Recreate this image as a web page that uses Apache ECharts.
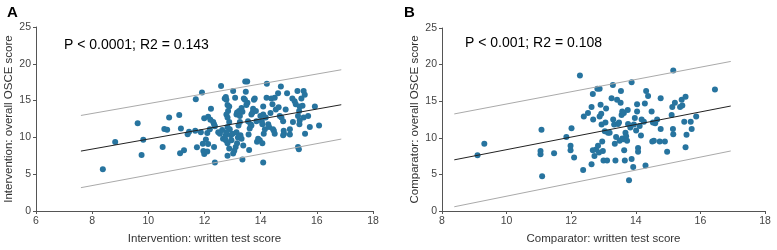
<!DOCTYPE html>
<html>
<head>
<meta charset="utf-8">
<script src="https://cdn.jsdelivr.net/npm/echarts@6/dist/echarts.min.js"></script>
<style>
  html, body { margin: 0; padding: 0; background: #fff; }
  #chart { width: 777px; height: 250px; }
</style>
</head>
<body>
<div id="chart"></div>
<script>
  // panel A: intervention group (written score, OSCE score)
  var scoresA = [
    [8.38,5.68],[8.82,9.37],[9.62,11.93],[9.82,9.68],[9.76,7.61],[10.51,8.71],[10.57,11.14],[10.67,11.05],
    [10.74,12.72],[11.10,13.03],[11.16,11.22],[11.13,7.83],[11.27,8.27],[11.40,10.43],[11.45,10.78],
    [11.69,15.18],[11.67,10.92],[11.73,8.67],[11.87,10.70],[11.91,16.11],[11.94,9.15],[11.96,8.14],[11.99,7.75],
    [12.23,13.9],[11.99,12.6],[12.13,12.8],[12.21,12.4],[12.31,12.1],[12.34,11.8],[12.37,11.5],[12.19,11.1],
    [12.10,10.6],[12.05,9.7],[12.13,9.1],[12.10,8.1],[12.34,8.7],[12.37,6.6],[12.49,10.7],[12.55,10.5],
    [12.63,11.0],[12.59,17.0],[12.66,9.8],[12.76,10.3],[12.72,15.3],[12.76,15.5],[12.78,15.1],[12.82,14.4],
    [12.88,14.2],[12.84,13.6],[12.78,13.1],[12.82,12.7],[12.88,12.1],[12.82,11.4],[12.90,11.1],[12.78,10.7],
    [12.76,9.6],[12.82,9.2],[12.88,8.5],[12.82,7.5],[12.94,10.3],[12.96,9.6],[13.00,10.5],[13.02,16.3],[13.02,7.8],
    [13.06,8.2],[13.09,15.4],[13.11,8.7],[13.16,9.2],[13.19,10.0],[13.14,10.7],[13.14,13.1],[13.16,13.4],
    [13.23,13.6],[13.26,12.9],[13.32,14.0],[13.35,13.5],[13.21,11.6],[13.26,12.1],[13.28,10.3],[13.32,9.8],
    [13.35,7.0],[13.38,8.9],[13.40,15.3],[13.44,15.1],[13.45,17.6],[13.52,17.6],[13.47,16.2],[13.49,14.4],
    [13.53,14.7],[13.57,10.4],[13.55,12.2],[13.59,8.3],[13.61,11.2],[13.64,11.8],[13.67,11.6],[13.67,13.1],
    [13.71,13.4],[13.73,13.9],[13.76,15.1],[13.79,15.3],[13.83,13.6],[13.85,12.2],[13.87,9.4],[13.91,9.8],
    [13.97,9.6],[13.99,12.9],[14.04,12.2],[14.06,11.8],[14.09,13.1],[14.09,14.2],[14.06,9.2],[14.09,6.6],
    [14.11,10.5],[14.15,11.1],[14.18,12.7],[14.21,15.4],[14.22,17.3],
    [14.27,11.8],[14.30,11.4],[14.35,13.3],[14.38,15.3],[14.42,14.5],[14.44,11.1],[14.47,10.9],[14.50,10.5],
    [14.50,15.4],[14.54,13.8],[14.62,16.0],[14.64,14.1],[14.68,12.9],[14.72,16.9],[14.74,12.7],[14.80,12.2],
    [14.82,10.9],[14.83,10.5],[14.80,10.3],[14.89,13.8],[14.94,16.0],[15.04,10.4],[15.04,11.1],[15.13,15.3],
    [15.15,12.1],[15.21,14.9],[15.25,14.5],[15.31,16.3],[15.33,12.9],[15.37,13.6],[15.38,11.8],[15.39,14.2],
    [15.33,8.7],[15.36,8.4],[15.39,12.3],[15.45,15.3],[15.49,14.3],[15.53,16.3],[15.57,15.8],[15.53,12.7],
    [15.58,10.5],[15.69,12.9],[15.75,11.4],[15.93,14.2],[16.08,11.6]
  ];
  // panel B: comparator group
  var scoresB = [
    [9.10,7.6],[9.31,9.2],[11.05,8.2],[11.05,7.75],[11.08,11.1],[11.10,4.75],[11.47,7.9],[11.85,10.1],
    [11.98,8.9],[11.98,8.3],[12.01,11.3],[12.09,7.3],[12.27,18.5],[12.39,12.9],[12.37,5.6],[12.52,13.4],
    [12.63,14.2],[12.63,6.4],[12.67,16.0],[12.68,12.5],[12.67,8.3],[12.72,7.5],[12.77,8.4],[12.81,16.7],
    [12.83,8.9],[12.88,16.7],[12.88,12.9],[12.86,8.0],[12.91,14.5],[12.93,13.3],[12.94,11.8],[12.96,9.5],
    [12.98,8.2],[13.00,6.9],[13.04,10.9],[13.06,12.1],[13.08,14.0],[13.11,6.9],[13.14,10.7],[13.19,10.7],
    [13.25,15.4],[13.29,17.2],[13.30,12.5],[13.33,11.8],[13.35,9.2],[13.37,6.9],[13.39,10.1],[13.42,15.2],
    [13.45,11.9],[13.48,12.1],[13.50,9.6],[13.53,14.8],[13.54,16.4],[13.56,13.1],[13.58,9.9],[13.58,13.6],
    [13.63,13.4],[13.61,9.8],[13.64,8.3],[13.66,6.9],[13.68,10.7],[13.70,10.2],[13.73,9.6],[13.75,13.8],
    [13.76,11.9],[13.79,4.2],[13.83,11.4],[13.87,17.6],[13.87,7.1],[13.92,6.0],[13.94,11.8],[13.97,12.7],
    [14.01,11.0],[14.04,13.6],[14.04,14.6],[14.07,8.6],[14.07,8.1],[14.12,11.6],[14.16,10.3],[14.18,12.5],
    [14.25,12.2],[14.28,14.7],[14.30,6.2],[14.32,16.4],[14.38,15.7],[14.49,13.6],[14.51,9.5],[14.53,12.1],
    [14.56,9.6],[14.60,12.0],[14.66,12.5],[14.74,9.5],[14.77,15.4],[14.77,11.2],[14.90,9.5],[14.97,8.1],
    [15.11,13.1],[15.13,14.2],[15.16,19.2],[15.15,11.2],[15.16,10.5],[15.21,14.8],[15.37,14.2],[15.42,15.2],
    [15.44,14.4],[15.50,12.2],[15.54,15.6],[15.54,8.7],[15.57,10.4],[15.70,12.2],[15.73,11.2],[15.87,12.9],
    [16.45,16.6]
  ];
  // fitted line and prediction bounds, end points
  var fitA = [[7.60,8.14],[16.87,14.44]];
  var upperA = [[7.60,12.98],[16.87,19.19]];
  var lowerA = [[7.60,3.17],[16.87,9.77]];
  var fitB = [[8.38,6.99],[16.94,14.34]];
  var upperB = [[8.38,13.26],[16.94,20.43]];
  var lowerB = [[8.38,0.58],[16.94,8.20]];

  var font = 'Liberation Sans, Arial, sans-serif';
  var dotColor = '#27749f';

  function xAxisFor(gridIndex, min, name) {
    return {
      gridIndex: gridIndex, type: 'value', min: min, max: 18, interval: 2,
      name: name, nameLocation: 'middle', nameGap: 22,
      nameTextStyle: {fontFamily: font, fontSize: 11.5, color: '#333'},
      splitLine: {show: false},
      axisLine: {lineStyle: {color: '#555', width: 1}},
      axisTick: {show: true, length: 3, lineStyle: {color: '#555'}},
      axisLabel: {fontFamily: font, fontSize: 10.5, color: '#444', margin: 5}
    }
  }
  function yAxisFor(gridIndex, name) {
    return {
      gridIndex: gridIndex, type: 'value', min: 0, max: 25, interval: 5,
      name: name, nameLocation: 'middle', nameGap: 21,
      nameTextStyle: {fontFamily: font, fontSize: 11.5, color: '#333'},
      splitLine: {show: false},
      axisLine: {show: true, lineStyle: {color: '#555', width: 1}},
      axisTick: {show: true, length: 3, lineStyle: {color: '#555'}},
      axisLabel: {fontFamily: font, fontSize: 10.5, color: '#444', margin: 5}
    }
  }
  function lineSeries(idx, data, color) {
    return {
      type: 'line', xAxisIndex: idx, yAxisIndex: idx, data: data,
      symbol: 'none', silent: true,
      lineStyle: {color: color, width: 1}
    }
  }

  var chart = echarts.init(document.getElementById('chart'))
  var option = {
    animation: false,
    backgroundColor: '#ffffff',
    title: [
      {text: 'A', left: 2, top: 0, textStyle: {fontFamily: font, fontSize: 15, fontWeight: 'bold', color: '#000'}},
      {text: 'B', left: 399, top: 0, textStyle: {fontFamily: font, fontSize: 15, fontWeight: 'bold', color: '#000'}},
      {text: 'P < 0.0001; R2 = 0.143', left: 59, top: 33, textStyle: {fontFamily: font, fontSize: 14, fontWeight: 'normal', color: '#000'}},
      {text: 'P < 0.001; R2 = 0.108', left: 460, top: 31, textStyle: {fontFamily: font, fontSize: 14, fontWeight: 'normal', color: '#000'}}
    ],
    grid: [
      {left: 36, top: 27, width: 337, height: 189},
      {left: 442, top: 28, width: 323, height: 186}
    ],
    xAxis: [
      xAxisFor(0, 6, 'Intervention: written test score'),
      xAxisFor(1, 8, 'Comparator: written test score')
    ],
    yAxis: [
      yAxisFor(0, 'Intervention: overall OSCE score'),
      yAxisFor(1, 'Comparator: overall OSCE score')
    ],
    series: [
      lineSeries(0, upperA, '#aaaaaa'),
      lineSeries(0, lowerA, '#aaaaaa'),
      lineSeries(0, fitA, '#222222'),
      {type: 'scatter', xAxisIndex: 0, yAxisIndex: 0, data: scoresA, symbolSize: 6, itemStyle: {color: dotColor, opacity: 1}},
      lineSeries(1, upperB, '#aaaaaa'),
      lineSeries(1, lowerB, '#aaaaaa'),
      lineSeries(1, fitB, '#222222'),
      {type: 'scatter', xAxisIndex: 1, yAxisIndex: 1, data: scoresB, symbolSize: 6, itemStyle: {color: dotColor, opacity: 1}}
    ]
  };
  chart.setOption(option)
</script>
</body>
</html>
